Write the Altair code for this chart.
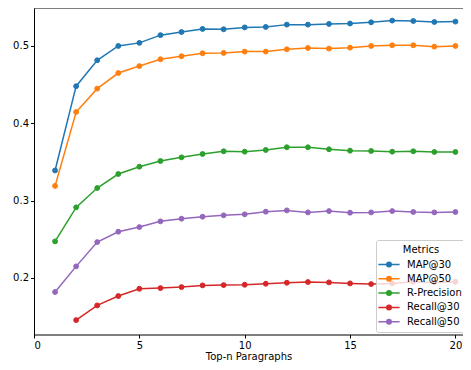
import altair as alt
import pandas as pd

x_vals = list(range(1, 21))
map30 = [0.339, 0.448, 0.4815, 0.500, 0.504, 0.514, 0.518, 0.522, 0.5216, 0.524,
         0.5246, 0.5276, 0.5276, 0.5285, 0.529, 0.5306, 0.5328, 0.5323, 0.531, 0.5315]
map50 = [0.319, 0.4146, 0.4448, 0.465, 0.474, 0.4828, 0.4867, 0.4905, 0.491, 0.4927,
         0.4927, 0.4957, 0.4974, 0.4966, 0.4978, 0.500, 0.5009, 0.5009, 0.4991, 0.500]
rprec = [0.2473, 0.2913, 0.3163, 0.3344, 0.3439, 0.3512, 0.356, 0.3603, 0.3638, 0.3633,
         0.3655, 0.369, 0.369, 0.3664, 0.3646, 0.3642, 0.3633, 0.3638, 0.3629, 0.3629]
recall30 = [None, 0.1455, 0.1645, 0.1766, 0.186, 0.1869, 0.1882, 0.1904, 0.1908, 0.1912,
            0.1925, 0.1938, 0.1947, 0.1943, 0.193, 0.1921, 0.193, 0.1951, 0.1943, 0.1951]
recall50 = [0.1818, 0.215, 0.2464, 0.2598, 0.2658, 0.2732, 0.2766, 0.2792, 0.281, 0.2823,
            0.2857, 0.2874, 0.2848, 0.2865, 0.2844, 0.2848, 0.2865, 0.2853, 0.2848, 0.2853]

names = ["MAP@30", "MAP@50", "R-Precision", "Recall@30", "Recall@50"]
colors = ["#1f77b4", "#ff7f0e", "#2ca02c", "#d62728", "#9467bd"]
series = [map30, map50, rprec, recall30, recall50]

rows = []
for name, vals in zip(names, series):
    for x, v in zip(x_vals, vals):
        if v is not None:
            rows.append({"n": x, "value": v, "metric": name})
df = pd.DataFrame(rows)

W, H = 429, 326.5
FONT = "DejaVu Sans"

sym_path = ("M-1.5,0L1.5,0M0.32,0A0.32,0.32,0,1,1,-0.32,0"
            "A0.32,0.32,0,1,1,0.32,0Z")

legend = alt.Legend(
    title="Metrics", orient="none", legendX=342, legendY=232,
    symbolType=sym_path, symbolSize=200, symbolStrokeWidth=1.5, symbolOpacity=1,
    labelOffset=10, padding=5, rowPadding=0.3,
    fillColor="rgba(255,255,255,0.8)", strokeColor="#cccccc", cornerRadius=2,
    titleAnchor="middle", titleFontWeight="normal", titleFontSize=10,
    titleFont=FONT, titleColor="black", labelFont=FONT, labelFontSize=10,
    labelColor="black", titlePadding=1.5,
)

scale = alt.Scale(domain=names, range=colors)
stroke_enc = alt.Stroke("metric:N", scale=scale, sort=names, legend=legend)
fill_enc = alt.Fill("metric:N", scale=scale, sort=names, legend=legend)

xenc = alt.X("n:Q", scale=alt.Scale(domain=[0, 20.36], nice=False, zero=False),
             axis=alt.Axis(values=[0, 5, 10, 15, 20], title="Top-n Paragraphs"))
yenc = alt.Y("value:Q", scale=alt.Scale(domain=[0.1269, 0.5491], nice=False, zero=False),
             axis=alt.Axis(values=[0.2, 0.3, 0.4, 0.5], format=".1f", title=None))

base = alt.Chart(df).encode(x=xenc, y=yenc)
lines = base.mark_line(strokeWidth=1.5).encode(stroke=stroke_enc)
points = base.mark_point(filled=True, size=24, opacity=1, strokeWidth=1).encode(
    fill=fill_enc, stroke=stroke_enc)

top = alt.Chart(pd.DataFrame({"a": [0]})).mark_rule(color="black", strokeWidth=1).encode(
    x=alt.value(0), x2=alt.value(W), y=alt.value(0))

chart = alt.layer(lines, points, top).properties(
    width=W, height=H,
    autosize=alt.AutoSizeParams(type="none"),
    padding={"left": 26, "top": 0, "right": 0, "bottom": 27.5},
).configure_view(stroke=None).configure_axis(
    labelFont=FONT, labelFontSize=10, labelColor="black",
    titleFont=FONT, titleFontSize=10, titleColor="black", titleFontWeight="normal",
    tickColor="black", tickSize=3.5, tickWidth=1, domainColor="black", domainWidth=1,
    grid=False, labelPadding=2, titlePadding=1.5,
)

chart.save("out.html", embed_options={"renderer": "svg", "actions": False})
